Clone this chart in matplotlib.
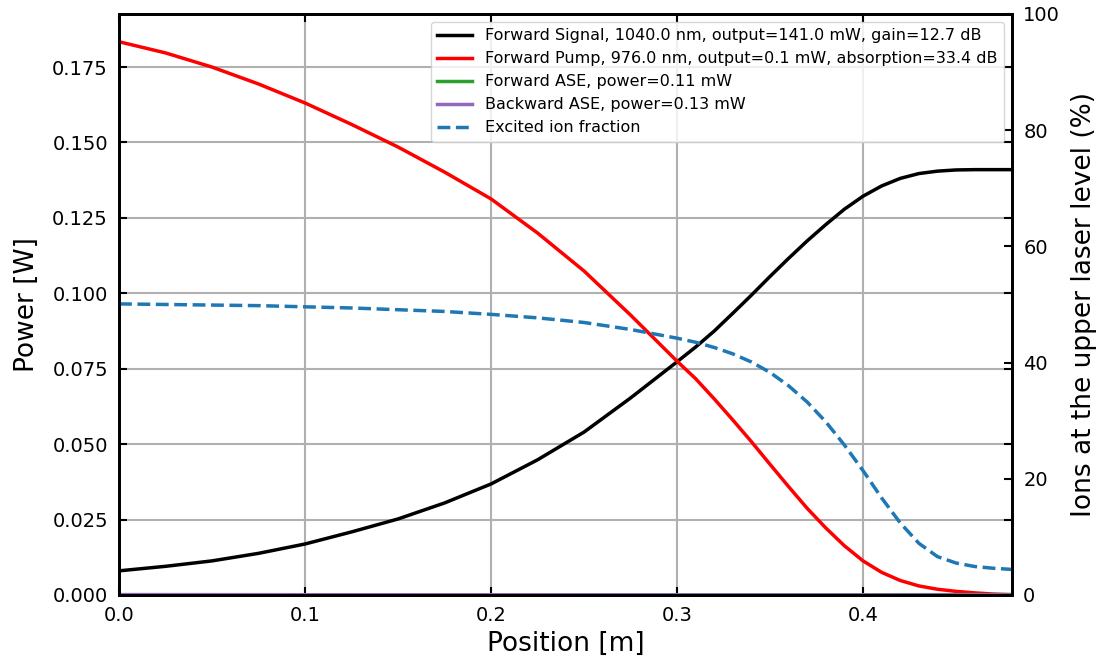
import matplotlib
matplotlib.use("Agg")
import matplotlib.pyplot as plt

# Positions along the fiber [m]
position = [0.0, 0.025, 0.05, 0.075, 0.1, 0.125, 0.15, 0.175, 0.2, 0.225, 0.25, 0.275, 0.3,
            0.31, 0.32, 0.33, 0.34, 0.35, 0.36, 0.37, 0.38, 0.39, 0.4, 0.41, 0.42, 0.43,
            0.44, 0.45, 0.46, 0.47, 0.48]

# Forward signal power [W]
signal = [0.0080, 0.0095, 0.0113, 0.0138, 0.0169, 0.0209, 0.0252, 0.0305, 0.0368, 0.0448,
          0.0540, 0.0653, 0.0773,
          0.0822, 0.0875, 0.0934, 0.0994, 0.1056, 0.1116, 0.1174, 0.1228, 0.1279, 0.1322,
          0.1356, 0.1381, 0.1397, 0.1405, 0.1409, 0.1410, 0.1410, 0.1410]

# Forward pump power [W]
pump = [0.1834, 0.1797, 0.1750, 0.1694, 0.1631, 0.1560, 0.1485, 0.1402, 0.1313, 0.1200,
        0.1074, 0.0928, 0.0775,
        0.0717, 0.0650, 0.0580, 0.0508, 0.0433, 0.0359, 0.0287, 0.0222, 0.0163, 0.0113,
        0.0075, 0.0048, 0.0030, 0.0019, 0.0012, 0.0007, 0.0003, 0.0001]

# ASE powers [W]
fwd_ase = [0.0, 0.0, 0.0, 0.0, 0.0, 0.0, 0.0, 0.0, 0.00001, 0.00001, 0.00001, 0.00002,
           0.00002, 0.00002, 0.00003, 0.00003, 0.00004, 0.00004, 0.00005, 0.00005,
           0.00006, 0.00006, 0.00007, 0.00008, 0.00009, 0.00010, 0.00010, 0.00011,
           0.00011, 0.00011, 0.00011]
bwd_ase = [0.00013, 0.00012, 0.00011, 0.00010, 0.00009, 0.00008, 0.00007, 0.00006,
           0.00005, 0.00004, 0.00003, 0.00003, 0.00002, 0.00002, 0.00002, 0.00002,
           0.00001, 0.00001, 0.00001, 0.00001, 0.00001, 0.00001, 0.00001, 0.0, 0.0,
           0.0, 0.0, 0.0, 0.0, 0.0, 0.0]

# Excited ion fraction [%]
excited = [50.1, 50.0, 49.9, 49.8, 49.6, 49.4, 49.1, 48.8, 48.3, 47.7, 46.9, 45.7, 44.2,
           43.5, 42.6, 41.5, 40.1, 38.3, 36.0, 33.2, 29.8, 25.8, 21.4, 16.7, 12.4, 8.9,
           6.6, 5.5, 4.9, 4.6, 4.4]

plt.rcParams['font.family'] = 'DejaVu Sans'

fig, ax = plt.subplots(figsize=(11.04, 6.63), dpi=100)
fig.subplots_adjust(left=0.1078, right=0.9167, top=0.9789, bottom=0.1026)
ax2 = ax.twinx()

l1, = ax.plot(position, signal, color='black', lw=2.5,
              label='Forward Signal, 1040.0 nm, output=141.0 mW, gain=12.7 dB')
l2, = ax.plot(position, pump, color='red', lw=2.5,
              label='Forward Pump, 976.0 nm, output=0.1 mW, absorption=33.4 dB')
l3, = ax.plot(position, fwd_ase, color='#2ca02c', lw=2.5,
              label='Forward ASE, power=0.11 mW')
l4, = ax.plot(position, bwd_ase, color='#9467bd', lw=2.5,
              label='Backward ASE, power=0.13 mW')
l5, = ax2.plot(position, excited, color='#1f77b4', lw=2.5, ls='--',
               label='Excited ion fraction')

ax.set_xlim(0, 0.4801)
ax.set_ylim(0, 0.1926)
ax2.set_ylim(0, 100)
ax.set_yticks([0, 0.025, 0.05, 0.075, 0.1, 0.125, 0.15, 0.175])
ax.set_xticks([0, 0.1, 0.2, 0.3, 0.4])
ax2.set_yticks([0, 20, 40, 60, 80, 100])

ax.grid(True, color='#b0b0b0', lw=1.5)
ax.set_axisbelow(True)

ax.set_xlabel('Position [m]', fontsize=19)
ax.set_ylabel('Power [W]', fontsize=19, labelpad=9)
ax2.set_ylabel('Ions at the upper laser level (%)', fontsize=19, labelpad=8)

ax.tick_params(top=True, right=True)
for a in (ax, ax2):
    a.tick_params(direction='in', length=6, width=1.5, labelsize=14, pad=8)
    for s in a.spines.values():
        s.set_linewidth(2)

ax2.legend(handles=[l1, l2, l3, l4, l5], loc='upper right', fontsize=11.5,
           handlelength=2.2, framealpha=0.8)

fig.savefig('out.png', dpi=100)
